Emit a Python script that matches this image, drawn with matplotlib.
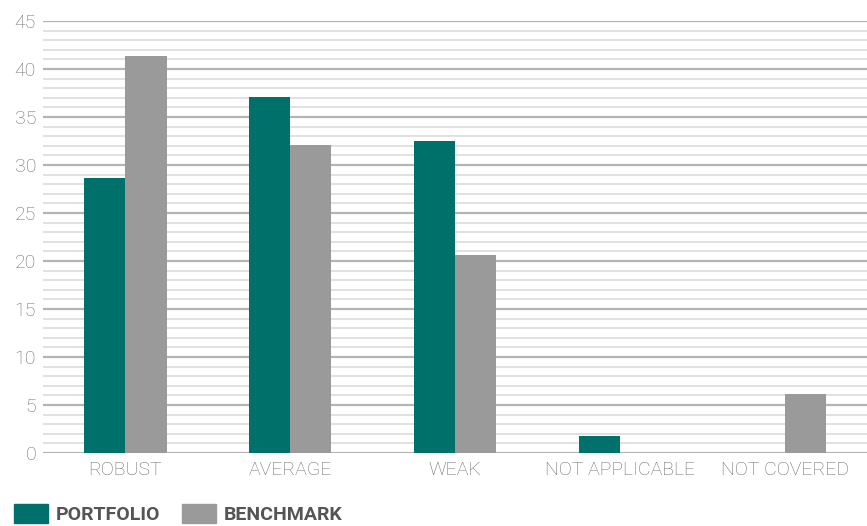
import numpy as np
import matplotlib.pyplot as plt
from matplotlib.patches import Patch

categories = ['ROBUST', 'AVERAGE', 'WEAK', 'NOT APPLICABLE', 'NOT COVERED']
portfolio = [28.6, 37.1, 32.5, 1.8, 0.0]
benchmark = [41.4, 32.1, 20.6, 0.0, 6.1]
series_names = ['PORTFOLIO', 'BENCHMARK']

teal = '#00706b'
grey = '#9a9a9a'
label_color = '#6e6e6e'

plt.rcParams['font.family'] = ['Roboto', 'DejaVu Sans']

fig = plt.figure(figsize=(8.67, 5.26), dpi=100)
ax = fig.add_axes([43 / 867, 73 / 526, 1 - 43 / 867, 432 / 526])

x = np.arange(len(categories))
w = 0.25
ax.bar(x - w / 2, portfolio, width=w, color=teal, zorder=3)
ax.bar(x + w / 2, benchmark, width=w, color=grey, zorder=3)

ax.set_xlim(-0.5, len(categories) - 0.5)
ax.set_ylim(0, 45)
ax.set_yticks(np.arange(0, 46, 5))
ax.set_yticks(np.arange(0, 46, 1), minor=True)
ax.grid(axis='y', which='major', color='#b4b4b4', linewidth=1.6, zorder=1)
ax.grid(axis='y', which='minor', color='#dedede', linewidth=1.3, zorder=0)
ax.set_xticks(x)
ax.set_xticklabels(categories)

for s in ax.spines.values():
    s.set_visible(False)
ax.tick_params(axis='both', which='both', length=0, labelsize=14,
               labelcolor=label_color)
ax.tick_params(axis='y', pad=5)
ax.tick_params(axis='x', pad=6)
for t in ax.get_xticklabels() + ax.get_yticklabels():
    t.set_fontweight('light')

handles = [Patch(color=teal), Patch(color=grey)]
leg = fig.legend(handles, series_names, loc='lower left',
                 bbox_to_anchor=(-0.004, -0.03), ncol=2, frameon=False,
                 handlelength=1.75, handleheight=1.15, handletextpad=0.4,
                 columnspacing=1.1,
                 prop={'weight': 'bold', 'size': 14})
for t in leg.get_texts():
    t.set_color('#555555')

plt.savefig('out.png', dpi=100)
plt.close()
